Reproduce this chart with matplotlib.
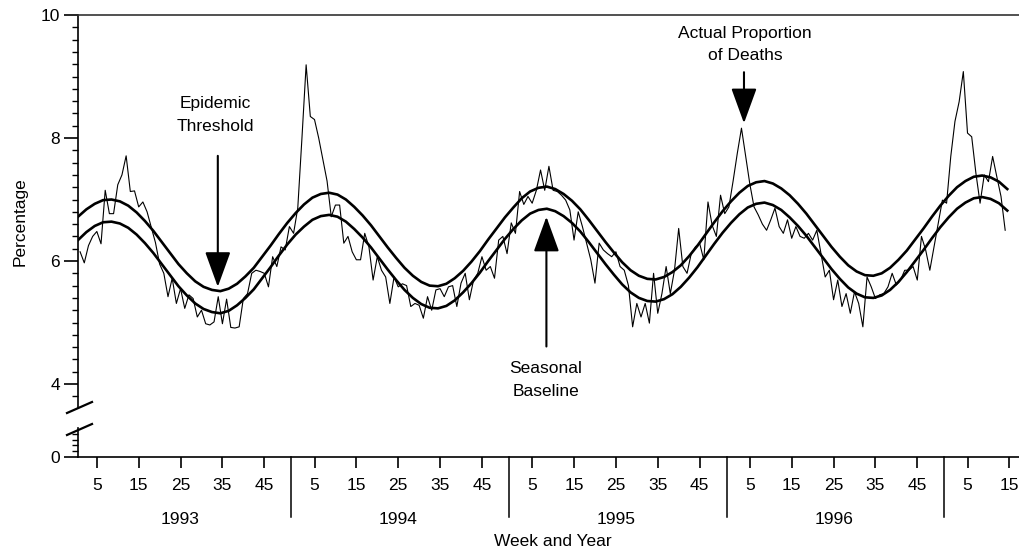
import numpy as np
import matplotlib
matplotlib.use('Agg')
import matplotlib.pyplot as plt
from matplotlib.lines import Line2D

plt.rcParams['font.family'] = ['Liberation Sans', 'DejaVu Sans']

# weekly percentage of deaths (P&I)
years = [1993, 1994, 1995, 1996]
tick_weeks = [5, 15, 25, 35, 45]

pct_1993 = [6.15, 5.97, 6.25, 6.40, 6.48, 6.28, 7.15, 6.77, 6.77, 7.24, 7.40, 7.71, 7.13,
            7.14, 6.88, 6.96, 6.80, 6.55, 6.30, 5.95, 5.80, 5.42, 5.72, 5.31, 5.55, 5.23,
            5.45, 5.39, 5.09, 5.20, 4.98, 4.96, 5.01, 5.42, 4.98, 5.38, 4.92, 4.91, 4.93,
            5.39, 5.47, 5.80, 5.85, 5.83, 5.80, 5.58, 6.07, 5.91, 6.23, 6.18, 6.56, 6.45]
pct_1994 = [6.86, 8.00, 9.19, 8.35, 8.30, 8.00, 7.65, 7.30, 6.72, 6.91, 6.91, 6.29, 6.40,
            6.15, 6.02, 6.02, 6.45, 6.23, 5.69, 6.07, 5.85, 5.74, 5.31, 5.74, 5.58, 5.63,
            5.60, 5.26, 5.31, 5.28, 5.07, 5.42, 5.20, 5.53, 5.55, 5.42, 5.58, 5.60, 5.26,
            5.64, 5.80, 5.37, 5.69, 5.80, 6.07, 5.85, 5.91, 5.72, 6.34, 6.40, 6.12, 6.62]
pct_1995 = [6.45, 7.13, 6.92, 7.05, 6.94, 7.15, 7.48, 7.15, 7.54, 7.15, 7.13, 7.07, 6.99,
            6.83, 6.34, 6.80, 6.56, 6.29, 6.02, 5.64, 6.29, 6.18, 6.12, 6.07, 6.15, 5.91,
            5.85, 5.60, 4.93, 5.31, 5.09, 5.31, 4.99, 5.80, 5.15, 5.47, 5.91, 5.47, 5.85,
            6.53, 5.91, 5.80, 6.12, 6.23, 6.29, 6.02, 6.96, 6.58, 6.40, 7.07, 6.77, 6.88]
pct_1996 = [7.30, 7.75, 8.16, 7.70, 7.25, 6.88, 6.75, 6.60, 6.50, 6.67, 6.86, 6.56, 6.45,
            6.67, 6.37, 6.56, 6.40, 6.37, 6.45, 6.34, 6.50, 6.12, 5.74, 5.85, 5.37, 5.69,
            5.26, 5.47, 5.15, 5.50, 5.31, 4.93, 5.74, 5.58, 5.39, 5.45, 5.47, 5.58, 5.80,
            5.61, 5.69, 5.85, 5.85, 5.91, 5.69, 6.40, 6.18, 5.85, 6.23, 6.62, 6.99, 6.94]
pct_1997 = [7.70, 8.27, 8.59, 9.08, 8.08, 8.02, 7.43, 6.94, 7.40, 7.29, 7.70, 7.37, 7.05, 6.50]

# seasonal baseline and epidemic threshold, sampled every 2 weeks
baseline = [6.34, 6.47, 6.57, 6.63, 6.64, 6.61, 6.54, 6.43, 6.29, 6.13, 5.95, 5.77, 5.59,
            5.44, 5.31, 5.22, 5.17, 5.15, 5.19, 5.28, 5.40, 5.54, 5.72, 5.90, 6.09, 6.27,
            6.43, 6.56, 6.67, 6.73, 6.75, 6.72, 6.64, 6.52, 6.38, 6.22, 6.04, 5.86, 5.69,
            5.53, 5.40, 5.30, 5.24, 5.23, 5.27, 5.36, 5.49, 5.64, 5.81, 6.00, 6.18, 6.36,
            6.52, 6.66, 6.77, 6.83, 6.85, 6.81, 6.73, 6.62, 6.48, 6.31, 6.13, 5.95, 5.78,
            5.62, 5.49, 5.40, 5.35, 5.34, 5.38, 5.46, 5.58, 5.73, 5.90, 6.09, 6.28, 6.46,
            6.62, 6.76, 6.87, 6.93, 6.95, 6.91, 6.83, 6.71, 6.57, 6.41, 6.23, 6.05, 5.87,
            5.71, 5.57, 5.47, 5.41, 5.40, 5.44, 5.53, 5.66, 5.82, 6.00, 6.18, 6.37, 6.55,
            6.71, 6.85, 6.95, 7.02, 7.04, 7.01, 6.94, 6.82]
threshold = [6.72, 6.84, 6.93, 6.99, 7.00, 6.97, 6.90, 6.79, 6.65, 6.49, 6.31, 6.13, 5.95,
             5.80, 5.67, 5.58, 5.53, 5.51, 5.55, 5.63, 5.75, 5.89, 6.07, 6.25, 6.44, 6.62,
             6.78, 6.92, 7.03, 7.09, 7.11, 7.08, 7.00, 6.88, 6.74, 6.58, 6.40, 6.22, 6.05,
             5.89, 5.76, 5.66, 5.60, 5.59, 5.63, 5.72, 5.84, 5.99, 6.16, 6.35, 6.53, 6.71,
             6.87, 7.02, 7.13, 7.19, 7.21, 7.17, 7.09, 6.98, 6.84, 6.67, 6.49, 6.31, 6.14,
             5.98, 5.85, 5.76, 5.71, 5.70, 5.74, 5.82, 5.93, 6.08, 6.25, 6.44, 6.63, 6.81,
             6.97, 7.11, 7.22, 7.28, 7.30, 7.26, 7.18, 7.07, 6.93, 6.77, 6.59, 6.41, 6.23,
             6.07, 5.93, 5.83, 5.77, 5.76, 5.80, 5.89, 6.02, 6.17, 6.35, 6.53, 6.72, 6.90,
             7.06, 7.20, 7.30, 7.37, 7.39, 7.36, 7.29, 7.17]

actual = pct_1993 + pct_1994 + pct_1995 + pct_1996 + pct_1997
week_idx = np.arange(1, len(actual) + 1)
curve_idx = np.arange(len(baseline)) * 2 + 0.5

W, H = 1019, 555
fig = plt.figure(figsize=(W / 100, H / 100), dpi=100)
ax = fig.add_axes([78 / W, 1 - 408 / H, (W - 78) / W, 393 / H])
axb = fig.add_axes([78 / W, 1 - 457 / H, (W - 78) / W, 29 / H], sharex=ax)

ax.plot(week_idx, actual, color='k', lw=0.8)
ax.plot(curve_idx, baseline, color='k', lw=1.9)
ax.plot(curve_idx, threshold, color='k', lw=1.9)

ax.set_xlim(0.5, 225.3)
ax.set_ylim(3.61, 10)
axb.set_ylim(0, 1)

for a in (ax, axb):
    a.spines['right'].set_visible(False)
    a.spines['left'].set_linewidth(1.2)
ax.spines['bottom'].set_visible(False)
ax.spines['top'].set_linewidth(1.2)
ax.spines['top'].set_color('#333333')
axb.spines['top'].set_visible(False)
axb.spines['bottom'].set_linewidth(1.2)

ax.set_yticks([4, 6, 8, 10])
ax.set_yticks(np.arange(3.8, 10, 0.2), minor=True)
axb.set_yticks([0])
axb.set_yticks([0.2, 0.4, 0.6, 0.8], minor=True)
for a in (ax, axb):
    a.tick_params(axis='y', which='major', length=10, width=1.2, pad=3, labelsize=12.5)
    a.tick_params(axis='y', which='minor', length=4, width=1)
ax.tick_params(axis='x', which='both', bottom=False, labelbottom=False)

xt = [52 * i + w for i in range(5) for w in tick_weeks if 52 * i + w <= 224]
axb.set_xticks(xt)
axb.set_xticklabels([str((x - 1) % 52 + 1) for x in xt])
axb.tick_params(axis='x', length=8, width=1.2, pad=7, labelsize=12.5)

# year separators and labels below the week ticks
trans = axb.get_xaxis_transform()
for i in range(1, 5):
    axb.plot([52 * i - 0.5] * 2, [0, -60 / 29], transform=trans, color='k',
             lw=1.1, clip_on=False)
for i, yr in enumerate(years):
    axb.text(52 * i + 25, -62 / 29, str(yr), transform=trans, ha='center',
             va='center', fontsize=12.5)

fig.text(553 / W, 1 - 542 / H, 'Week and Year', ha='center', va='center', fontsize=12.5)
fig.text(20 / W, 1 - 222 / H, 'Percentage', ha='center', va='center', rotation=90,
         fontsize=12.5)

# axis break marks
for y0 in (413, 435):
    fig.add_artist(Line2D([67 / W, 92 / W], [1 - y0 / H, 1 - (y0 - 11) / H],
                          transform=fig.transFigure, color='k', lw=1.6))

arrow = dict(arrowstyle='-|>,head_length=2.2,head_width=0.8', color='k', lw=1.5,
             shrinkA=0, shrinkB=0, mutation_scale=10)
ax.annotate('', xy=(33.9, 5.58), xytext=(33.9, 7.71), arrowprops=arrow)
ax.text(33.4, 8.37, 'Epidemic\nThreshold', ha='center', va='center', fontsize=12.5,
        linespacing=1.65)
ax.annotate('', xy=(112.4, 6.72), xytext=(112.4, 4.61), arrowprops=arrow)
ax.text(112.2, 4.07, 'Seasonal\nBaseline', ha='center', va='center', fontsize=12.5,
        linespacing=1.65)
ax.annotate('', xy=(159.6, 8.24), xytext=(159.6, 9.07), arrowprops=arrow)
ax.text(159.8, 9.52, 'Actual Proportion\nof Deaths', ha='center', va='center',
        fontsize=12.5, linespacing=1.65)

fig.savefig('out.png', dpi=100)
